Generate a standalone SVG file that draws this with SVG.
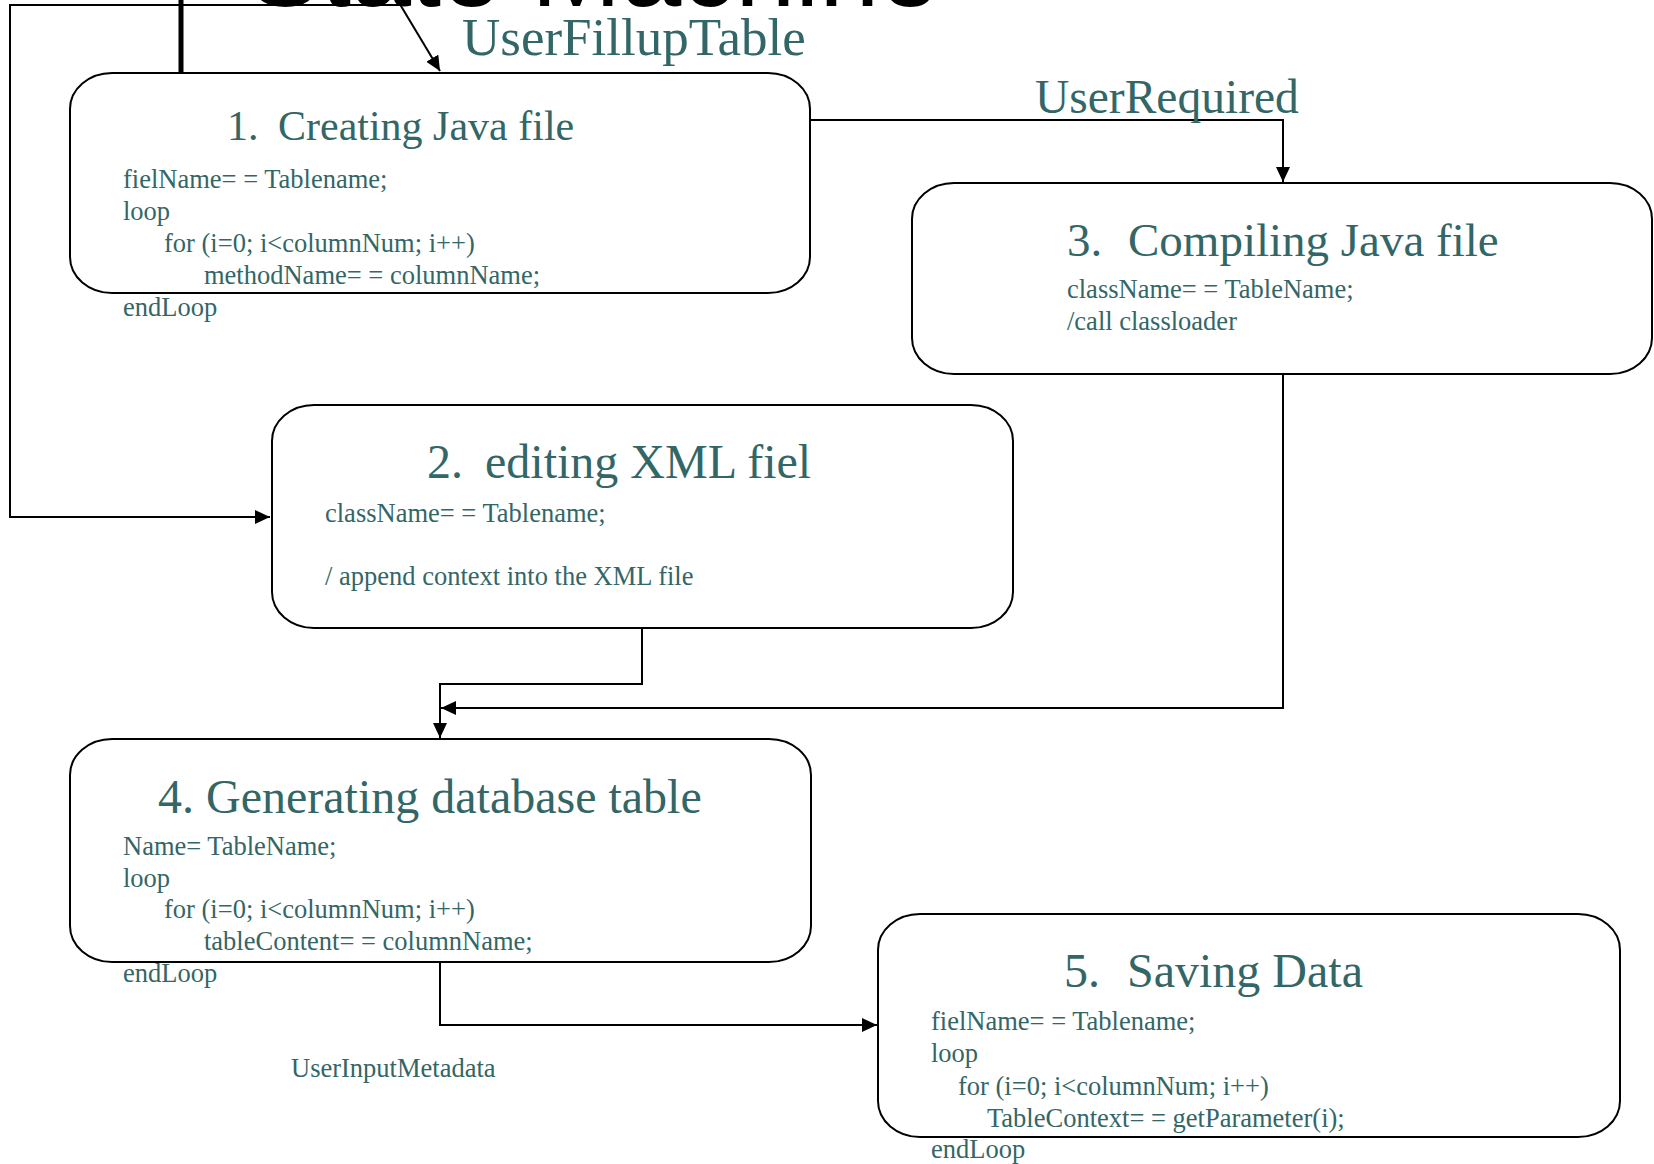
<svg xmlns="http://www.w3.org/2000/svg" width="1654" height="1164" viewBox="0 0 1654 1164">
  <defs>
    <marker id="arrow" markerUnits="userSpaceOnUse" markerWidth="16" markerHeight="14" refX="15" refY="7" orient="auto" viewBox="0 0 16 14">
      <path d="M0,0 L15,7 L0,14 z" fill="#000"/>
    </marker>
    <style>
      .box { fill: #fff; stroke: #000; stroke-width: 2; }
      .conn { fill: none; stroke: #000; stroke-width: 2; }
      .title { font-family: "Liberation Serif", "Times New Roman", serif; fill: #336666; font-size: 48px; }
      .t1 { font-size: 42px; }
      .t3 { font-size: 47px; }
      .body { font-family: "Liberation Serif", "Times New Roman", serif; fill: #336666; font-size: 26.5px; }
      .label { font-family: "Liberation Serif", "Times New Roman", serif; fill: #336666; }
    </style>
  </defs>
  <rect x="0" y="0" width="1654" height="1164" fill="#fff"/>

  <text x="249" y="6" font-family="'Liberation Sans', Arial, sans-serif" font-size="108" fill="#000">State Machine</text>

  <g id="connectors">
    <line x1="181" y1="0" x2="181" y2="72" stroke="#000" stroke-width="5"/>
    <polyline class="conn" points="406,5 10,5 10,517 270,517" marker-end="url(#arrow)"/>
    <line class="conn" x1="398" y1="1" x2="440" y2="71" marker-end="url(#arrow)"/>
    <polyline class="conn" points="810,120 1283,120 1283,182" marker-end="url(#arrow)"/>
    <polyline class="conn" points="642,628 642,684 440,684 440,738" marker-end="url(#arrow)"/>
    <polyline class="conn" points="1283,373 1283,708 441,708" marker-end="url(#arrow)"/>
    <polyline class="conn" points="440,962 440,1025 877,1025" marker-end="url(#arrow)"/>
    <text class="label" x="462" y="55" font-size="53">UserFillupTable</text>
    <text class="label" x="1035" y="113" font-size="47.5">UserRequired</text>
    <text class="label" x="291" y="1077" font-size="26.5">UserInputMetadata</text>
  </g>

  <g id="node1">
    <rect class="box" x="70" y="73" width="740" height="220" rx="42" ry="36"/>
    <text class="title t1" y="140"><tspan x="227">1.</tspan><tspan x="278">Creating Java file</tspan></text>
    <text class="body" x="123" y="188">fielName= = Tablename;</text>
    <text class="body" x="123" y="220">loop</text>
    <text class="body" x="164" y="252">for (i=0; i&lt;columnNum; i++)</text>
    <text class="body" x="204" y="284">methodName= = columnName;</text>
    <text class="body" x="123" y="316">endLoop</text>
  </g>

  <g id="node2">
    <rect class="box" x="272" y="405" width="741" height="223" rx="42" ry="36"/>
    <text class="title" y="478"><tspan x="427">2.</tspan><tspan x="485">editing XML fiel</tspan></text>
    <text class="body" x="325" y="522">className= = Tablename;</text>
    <text class="body" x="325" y="585">/ append context into the XML file</text>
  </g>

  <g id="node3">
    <rect class="box" x="912" y="183" width="740" height="191" rx="42" ry="36"/>
    <text class="title t3" y="256"><tspan x="1067">3.</tspan><tspan x="1128">Compiling Java file</tspan></text>
    <text class="body" x="1067" y="298">className= = TableName;</text>
    <text class="body" x="1067" y="330">/call classloader</text>
  </g>

  <g id="node4">
    <rect class="box" x="70" y="739" width="741" height="223" rx="42" ry="36"/>
    <text class="title" x="158" y="813">4. Generating database table</text>
    <text class="body" x="123" y="855">Name= TableName;</text>
    <text class="body" x="123" y="887">loop</text>
    <text class="body" x="164" y="918">for (i=0; i&lt;columnNum; i++)</text>
    <text class="body" x="204" y="950">tableContent= = columnName;</text>
    <text class="body" x="123" y="982">endLoop</text>
  </g>

  <g id="node5">
    <rect class="box" x="878" y="914" width="742" height="223" rx="42" ry="36"/>
    <text class="title" y="987"><tspan x="1064">5.</tspan><tspan x="1127">Saving Data</tspan></text>
    <text class="body" x="931" y="1030">fielName= = Tablename;</text>
    <text class="body" x="931" y="1062">loop</text>
    <text class="body" x="958" y="1095">for (i=0; i&lt;columnNum; i++)</text>
    <text class="body" x="987" y="1127">TableContext= = getParameter(i);</text>
    <text class="body" x="931" y="1158">endLoop</text>
  </g>
</svg>
